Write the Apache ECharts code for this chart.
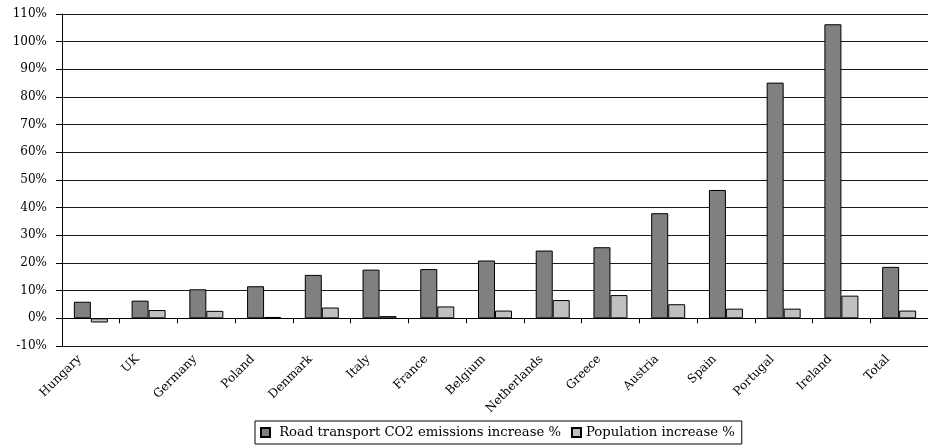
<!DOCTYPE html>
<html>
<head>
<meta charset="utf-8">
<script src="https://cdn.jsdelivr.net/npm/echarts@6/dist/echarts.min.js"></script>
<style>
html,body{margin:0;padding:0;background:#fff;}
#chart{width:928px;height:445px;}
</style>
</head>
<body>
<div id="chart"></div>
<script>
const categories = ['Hungary','UK','Germany','Poland','Denmark','Italy','France','Belgium','Netherlands','Greece','Austria','Spain','Portugal','Ireland','Total'];
const co2Increase = [6.0, 6.4, 10.5, 11.6, 15.7, 17.6, 17.8, 20.9, 24.5, 25.7, 38.0, 46.4, 85.2, 106.3, 18.6];
const popIncrease = [-1.5, 3.0, 2.7, 0.5, 3.9, 0.8, 4.3, 2.8, 6.6, 8.4, 5.1, 3.5, 3.5, 8.2, 2.8];
const seriesNames = ['Road transport CO2 emissions increase %', 'Population increase %'];
const yMin = -10, yMax = 110, yStep = 10;

const FONT = '"DejaVu Serif", serif';
const chart = echarts.init(document.getElementById('chart'));
chart.setOption({
  animation: false,
  backgroundColor: '#fff',
  grid: { left: 62, top: 14, right: -6, bottom: 99, containLabel: false },
  legend: {
    left: 255, top: 421,
    padding: [5, 7, 5, 5],
    itemWidth: 9, itemHeight: 9, itemGap: 10,
    borderColor: '#000', borderWidth: 1,
    icon: 'rect',
    textStyle: { fontFamily: FONT, fontSize: 13.2, color: '#000' },
    formatter: function (n) { return n === seriesNames[0] ? ' ' + n : n; },
    data: seriesNames
  },
  xAxis: {
    type: 'category',
    data: categories,
    axisLine: { onZero: true, lineStyle: { color: '#000', width: 1 } },
    axisTick: { show: true, length: 5, lineStyle: { color: '#000' } },
    axisLabel: {
      rotate: 45, interval: 0, margin: 0, padding: [0, 16, 0, 0],
      fontFamily: FONT, fontSize: 12, color: '#000'
    },
    splitLine: { show: false }
  },
  yAxis: {
    type: 'value',
    min: yMin, max: yMax, interval: yStep,
    axisLine: { show: true, lineStyle: { color: '#000', width: 1 } },
    axisTick: { show: true, length: 6, lineStyle: { color: '#000' } },
    axisLabel: { formatter: '{value}%', margin: 15, fontFamily: FONT, fontSize: 12, color: '#000' },
    splitLine: { show: true, lineStyle: { color: '#1a1a1a', width: 1 } }
  },
  series: [
    {
      name: seriesNames[0], type: 'bar', data: co2Increase,
      barWidth: 17, barGap: '0%',
      itemStyle: { color: '#808080', borderColor: '#000', borderWidth: 1 }
    },
    {
      name: seriesNames[1], type: 'bar', data: popIncrease,
      barWidth: 17, barGap: '0%',
      itemStyle: { color: '#c0c0c0', borderColor: '#000', borderWidth: 1 }
    }
  ]
});
</script>
</body>
</html>
